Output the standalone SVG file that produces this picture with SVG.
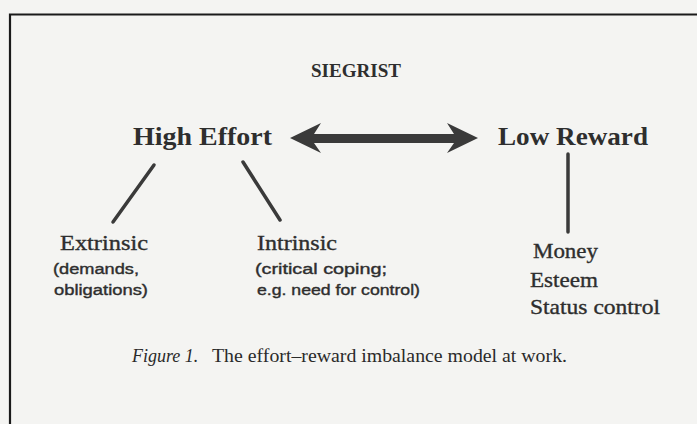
<svg xmlns="http://www.w3.org/2000/svg" width="697" height="424" viewBox="0 0 697 424">
<style>
.bg{fill:#f4f4f2}
.frame{fill:none;stroke:#1a1a1a;stroke-width:2.2}
.hd{font-family:"Liberation Serif",serif;font-weight:bold;fill:#2e2e2e}
.sr{font-family:"Liberation Serif",serif;fill:#2e2e2e;stroke:#2e2e2e;stroke-width:0.35}
.ss{font-family:"Liberation Sans",Arial,sans-serif;fill:#2e2e2e;stroke:#2e2e2e;stroke-width:0.4}
.ln{stroke:#3a3a3a;stroke-width:3.5;stroke-linecap:round;fill:none}
.cap{font-family:"Liberation Serif",serif;fill:#2a2a2a;font-size:18px}
</style>
<rect class="bg" x="0" y="0" width="697" height="424"/>
<path class="frame" d="M10,440 V14.5 H710"/>
<text class="hd" x="356" y="77" font-size="19" text-anchor="middle" textLength="90" lengthAdjust="spacingAndGlyphs">SIEGRIST</text>
<g id="high-effort">
<text class="hd" x="133" y="145" font-size="25" textLength="139" lengthAdjust="spacingAndGlyphs">High Effort</text>
</g>
<g id="low-reward">
<text class="hd" x="498" y="145" font-size="25" textLength="150" lengthAdjust="spacingAndGlyphs">Low Reward</text>
</g>
<g id="extrinsic">
<text class="sr" x="60" y="250" font-size="21" textLength="88" lengthAdjust="spacingAndGlyphs">Extrinsic</text>
<text class="ss" x="53" y="274" font-size="15.5" textLength="86" lengthAdjust="spacingAndGlyphs">(demands,</text>
<text class="ss" x="54" y="295" font-size="15.5" textLength="94" lengthAdjust="spacingAndGlyphs">obligations)</text>
</g>
<g id="intrinsic">
<text class="sr" x="257" y="250" font-size="21" textLength="80" lengthAdjust="spacingAndGlyphs">Intrinsic</text>
<text class="ss" x="255" y="274" font-size="15.5" textLength="132" lengthAdjust="spacingAndGlyphs">(critical coping;</text>
<text class="ss" x="257" y="295" font-size="15.5" textLength="163" lengthAdjust="spacingAndGlyphs">e.g. need for control)</text>
</g>
<g id="rewards">
<text class="sr" x="533" y="258" font-size="21" textLength="65" lengthAdjust="spacingAndGlyphs">Money</text>
<text class="sr" x="530" y="287" font-size="21" textLength="68" lengthAdjust="spacingAndGlyphs">Esteem</text>
<text class="sr" x="530" y="314" font-size="21" textLength="130" lengthAdjust="spacingAndGlyphs">Status control</text>
</g>
<g id="connectors">
<path d="M290,138 L321,123 L314,134 L454,134 L447,123 L478,138 L447,153 L454,143 L314,143 L321,153 Z" fill="#3a3a3a"/>
<line class="ln" x1="154" y1="165" x2="113" y2="222"/>
<line class="ln" x1="243" y1="162" x2="280" y2="220"/>
<line class="ln" x1="568" y1="154" x2="568" y2="232"/>
</g>
<g id="caption">
<text class="cap" y="362"><tspan x="132" font-style="italic">Figure 1.</tspan><tspan x="212" textLength="355" lengthAdjust="spacingAndGlyphs">The effort–reward imbalance model at work.</tspan></text>
</g>
</svg>
